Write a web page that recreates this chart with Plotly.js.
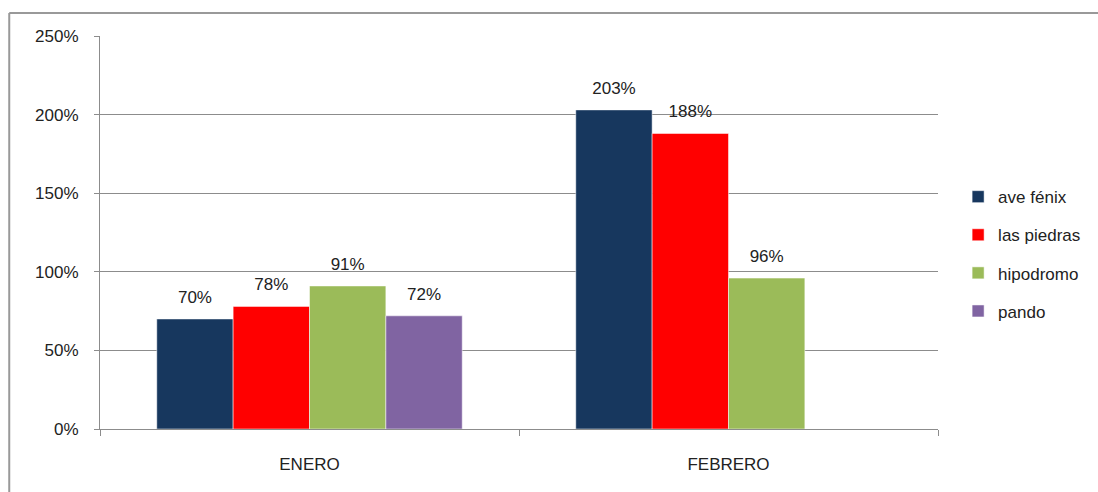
<!DOCTYPE html>
<html>
<head>
<meta charset="utf-8">
<script src="https://cdn.plot.ly/plotly-3.0.1.min.js"></script>
<style>html,body{margin:0;padding:0;background:#fff;}#chart{width:1098px;height:492px;}</style>
</head>
<body>
<div id="chart"></div>
<script>
const categories = ['ENERO', 'FEBRERO'];
const seriesNames = ['ave fénix', 'las piedras', 'hipodromo', 'pando'];
const aveFenix = [0.70, 2.03];
const lasPiedras = [0.78, 1.88];
const hipodromo = [0.91, 0.96];
const pando = [0.72, null];
const yTickVals = [0, 0.5, 1, 1.5, 2, 2.5];
const yTickText = ['0%', '50%', '100%', '150%', '200%', '250%'];

const colors = ['#17375E', '#FF0000', '#9BBB59', '#8064A2'];
const values = [aveFenix, lasPiedras, hipodromo, pando];
const font = 'Liberation Sans, Arial, sans-serif';
const labelTemplate = '<span style="font-size:17px">%{y:.0%}</span><br><span style="color:rgba(0,0,0,0)">.</span>';

const traces = values.map((v, i) => ({
  type: 'bar',
  name: seriesNames[i],
  x: categories,
  y: v,
  marker: {color: colors[i], line: {color: 'rgba(255,255,255,0.5)', width: 1}},
  texttemplate: labelTemplate,
  textposition: 'outside',
  textfont: {family: font, size: 8.5, color: '#222'},
  constraintext: 'none',
  cliponaxis: false,
  legendgroup: 'g' + i,
  hoverinfo: 'skip'
}));

const layout = {
  width: 1098, height: 492,
  margin: {l: 100, r: 158, t: 36, b: 63},
  paper_bgcolor: '#fff', plot_bgcolor: '#fff',
  font: {family: font, size: 17, color: '#222'},
  barmode: 'group',
  bargap: 0.271,
  bargroupgap: 0,
  showlegend: true,
  legend: {x: 1.024, xanchor: 'left', y: 0.445, yanchor: 'middle',
    font: {family: font, size: 17, color: '#222'}, tracegroupgap: 13, bgcolor: 'rgba(0,0,0,0)'},
  xaxis: {type: 'category', showgrid: false, showline: true, linecolor: '#8c8c8c', linewidth: 1,
    ticks: 'outside', tickson: 'boundaries', ticklen: 6, tickcolor: '#8c8c8c',
    ticklabelstandoff: 20, zeroline: false, fixedrange: true},
  yaxis: {range: [0, 2.5], tickvals: yTickVals, ticktext: yTickText, showgrid: true,
    gridcolor: '#8c8c8c', gridwidth: 1, showline: true, linecolor: '#8c8c8c', ticks: 'outside',
    ticklen: 5, tickcolor: '#8c8c8c', ticklabelstandoff: 12, zeroline: false, fixedrange: true},
  shapes: [
    {type: 'line', xref: 'paper', yref: 'paper', x0: -0.1083, x1: 1.2, y0: 1.0585, y1: 1.0585,
      line: {color: '#999', width: 2}},
    {type: 'line', xref: 'paper', yref: 'paper', x0: -0.1083, x1: -0.1083, y0: 1.0585, y1: -0.2,
      line: {color: '#999', width: 2}}
  ]
};

Plotly.newPlot('chart', traces, layout, {displayModeBar: false, staticPlot: true});
</script>
</body>
</html>
